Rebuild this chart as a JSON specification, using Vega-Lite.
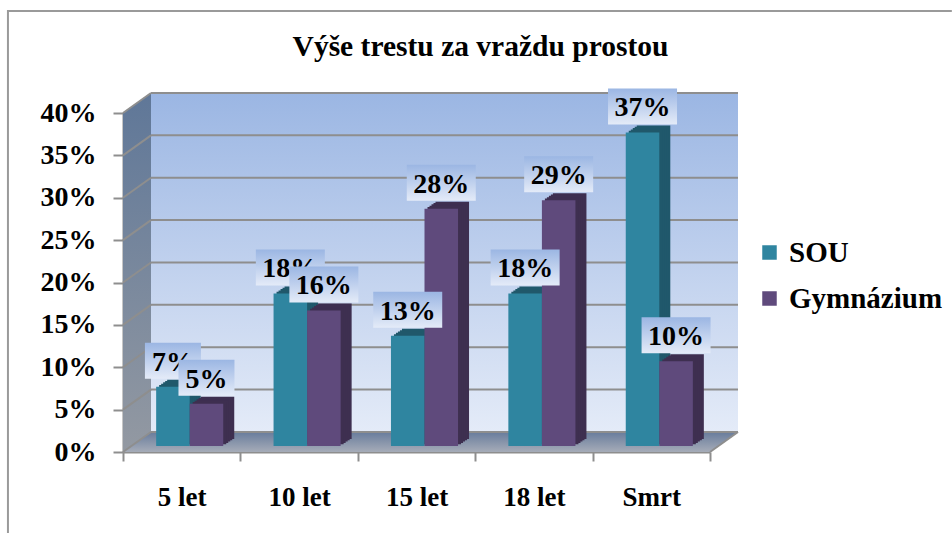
{
"$schema":"https://vega.github.io/schema/vega-lite/v6.json",
"width":587,"height":339,
"autosize":{"type":"none"},
"padding":{"left":123,"top":113,"right":242,"bottom":81},
"background":"white",
"title":{"text":"Výše trestu za vraždu prostou","font":"Liberation Serif","fontWeight":"bold","fontSize":29.5,"color":"#000","anchor":"middle","dx":64,"offset":-85,"baseline":"bottom"},
"datasets":{
"bars":[
{"doba":"5 let","skola":"SOU","podil":0.07},{"doba":"10 let","skola":"SOU","podil":0.18},{"doba":"15 let","skola":"SOU","podil":0.13},{"doba":"18 let","skola":"SOU","podil":0.18},{"doba":"Smrt","skola":"SOU","podil":0.37},
{"doba":"5 let","skola":"Gymnázium","podil":0.05},{"doba":"10 let","skola":"Gymnázium","podil":0.16},{"doba":"15 let","skola":"Gymnázium","podil":0.28},{"doba":"18 let","skola":"Gymnázium","podil":0.29},{"doba":"Smrt","skola":"Gymnázium","podil":0.10}
]
},
"layer":[
{
"layer":[
{"data":{"values":[{"a":-0.98,"v":-0.0956,"o":1},{"a":-0.98,"v":0.5204,"o":2},{"a":7.06,"v":0.5204,"o":3}]},
 "mark":{"type":"line","color":"#9a9a9a","strokeWidth":2,"clip":false},
 "encoding":{"x":{"field":"a","type":"quantitative","scale":{"domain":[0,5],"nice":false,"zero":false},"axis":null},"y":{"field":"v","type":"quantitative","scale":{"domain":[0,0.4],"nice":false},"axis":{"values":[0,0.05,0.1,0.15,0.2,0.25,0.3,0.35,0.4],"format":".0%","title":null,"grid":false,"domainColor":"#8e8e8e","domainWidth":2,"tickColor":"#8e8e8e","tickWidth":2,"tickSize":10,"labelPadding":17,"labelFont":"Liberation Serif","labelFontWeight":"bold","labelFontSize":28,"labelColor":"#000"}},"order":{"field":"o"}}},
{"data":{"values":[{"a":0.2385,"b":5.2385,"lo":0.0236,"hi":0.4236}]},
 "mark":{"type":"rect","clip":false,"fill":{"x1":0,"y1":0,"x2":0,"y2":1,"gradient":"linear","stops":[{"offset":0,"color":"#9bb6e3"},{"offset":1,"color":"#e4ebf8"}]}},
 "encoding":{"x":{"field":"a","type":"quantitative"},"x2":{"field":"b"},"y":{"field":"lo","type":"quantitative"},"y2":{"field":"hi"}}},
{"data":{"values":[{"a":0,"lo":0,"hi":0.4},{"a":0.2385,"lo":0.0236,"hi":0.4236}]},
 "mark":{"type":"area","clip":false,"fill":{"x1":0,"y1":0,"x2":0,"y2":1,"gradient":"linear","stops":[{"offset":0,"color":"#5f7798"},{"offset":1,"color":"#9399a2"}]}},
 "encoding":{"x":{"field":"a","type":"quantitative"},"y":{"field":"lo","type":"quantitative"},"y2":{"field":"hi"}}},
{"data":{"values":[{"v":0,"a":0,"b":5},{"v":0.0236,"a":0.2385,"b":5.2385}]},
 "mark":{"type":"area","orient":"horizontal","clip":false,"fill":{"x1":0,"y1":0,"x2":0,"y2":1,"gradient":"linear","stops":[{"offset":0,"color":"#687c9c"},{"offset":1,"color":"#a6acb8"}]}},
 "encoding":{"y":{"field":"v","type":"quantitative"},"x":{"field":"a","type":"quantitative"},"x2":{"field":"b"}}},
{"data":{"values":[{"v":0.0236,"a":0.2385,"b":5.2385},{"v":0.0736,"a":0.2385,"b":5.2385},{"v":0.1236,"a":0.2385,"b":5.2385},{"v":0.1736,"a":0.2385,"b":5.2385},{"v":0.2236,"a":0.2385,"b":5.2385},{"v":0.2736,"a":0.2385,"b":5.2385},{"v":0.3236,"a":0.2385,"b":5.2385},{"v":0.3736,"a":0.2385,"b":5.2385},{"v":0.4236,"a":0.2385,"b":5.2385}]},
 "mark":{"type":"rule","color":"#8e8e8e","strokeWidth":2,"clip":false},
 "encoding":{"y":{"field":"v","type":"quantitative"},"x":{"field":"a","type":"quantitative"},"x2":{"field":"b"}}},
{"data":{"values":[
{"k":0,"a":0,"v":0},{"k":0,"a":0.2385,"v":0.0236},{"k":5,"a":0,"v":0.05},{"k":5,"a":0.2385,"v":0.0736},{"k":10,"a":0,"v":0.1},{"k":10,"a":0.2385,"v":0.1236},{"k":15,"a":0,"v":0.15},{"k":15,"a":0.2385,"v":0.1736},{"k":20,"a":0,"v":0.2},{"k":20,"a":0.2385,"v":0.2236},{"k":25,"a":0,"v":0.25},{"k":25,"a":0.2385,"v":0.2736},{"k":30,"a":0,"v":0.3},{"k":30,"a":0.2385,"v":0.3236},{"k":35,"a":0,"v":0.35},{"k":35,"a":0.2385,"v":0.3736},{"k":40,"a":0,"v":0.4},{"k":40,"a":0.2385,"v":0.4236},{"k":99,"a":5,"v":0},{"k":99,"a":5.2385,"v":0.0236}]},
 "mark":{"type":"line","color":"#8e8e8e","strokeWidth":2,"clip":false},
 "encoding":{"x":{"field":"a","type":"quantitative"},"y":{"field":"v","type":"quantitative"},"detail":{"field":"k"}}}
]},
{"data":{"name":"bars"},"mark":{"type":"bar","opacity":0},
 "encoding":{"x":{"field":"doba","type":"nominal","sort":["5 let","10 let","15 let","18 let","Smrt"],"scale":{"paddingInner":0,"paddingOuter":0},
  "axis":{"title":null,"orient":"bottom","labelAngle":0,"tickBand":"extent","domainColor":"#8e8e8e","domainWidth":2,"tickColor":"#8e8e8e","tickWidth":2,"tickSize":9,"labelPadding":23,"labelFont":"Liberation Serif","labelFontWeight":"bold","labelFontSize":27,"labelColor":"#000","grid":false}},"y":{"field":"podil","type":"quantitative"}}},
{"data":{"name":"bars"},"mark":{"type":"bar","yOffset":-13},"encoding":{"x":{"field":"doba","type":"nominal","sort":["5 let","10 let","15 let","18 let","Smrt"],"axis":null,"scale":{"paddingInner":0,"paddingOuter":0,"range":[19,606]}},"xOffset":{"field":"skola","type":"nominal","sort":["SOU","Gymnázium"],"scale":{"paddingInner":0,"paddingOuter":0.75}},"y":{"field":"podil","type":"quantitative"},"color":{"condition":{"test":"datum.skola==='SOU'","value":"#20586b"},"value":"#3e2f50"}}},
{"data":{"name":"bars"},"mark":{"type":"bar","yOffset":-11.7},"encoding":{"x":{"field":"doba","type":"nominal","sort":["5 let","10 let","15 let","18 let","Smrt"],"axis":null,"scale":{"paddingInner":0,"paddingOuter":0,"range":[17,604]}},"xOffset":{"field":"skola","type":"nominal","sort":["SOU","Gymnázium"],"scale":{"paddingInner":0,"paddingOuter":0.75}},"y":{"field":"podil","type":"quantitative"},"color":{"condition":{"test":"datum.skola==='SOU'","value":"#20586b"},"value":"#3e2f50"}}},
{"data":{"name":"bars"},"mark":{"type":"bar","yOffset":-10.4},"encoding":{"x":{"field":"doba","type":"nominal","sort":["5 let","10 let","15 let","18 let","Smrt"],"axis":null,"scale":{"paddingInner":0,"paddingOuter":0,"range":[15,602]}},"xOffset":{"field":"skola","type":"nominal","sort":["SOU","Gymnázium"],"scale":{"paddingInner":0,"paddingOuter":0.75}},"y":{"field":"podil","type":"quantitative"},"color":{"condition":{"test":"datum.skola==='SOU'","value":"#20586b"},"value":"#3e2f50"}}},
{"data":{"name":"bars"},"mark":{"type":"bar","yOffset":-9},"encoding":{"x":{"field":"doba","type":"nominal","sort":["5 let","10 let","15 let","18 let","Smrt"],"axis":null,"scale":{"paddingInner":0,"paddingOuter":0,"range":[13,600]}},"xOffset":{"field":"skola","type":"nominal","sort":["SOU","Gymnázium"],"scale":{"paddingInner":0,"paddingOuter":0.75}},"y":{"field":"podil","type":"quantitative"},"color":{"condition":{"test":"datum.skola==='SOU'","value":"#20586b"},"value":"#3e2f50"}}},
{"data":{"name":"bars"},"mark":{"type":"bar","yOffset":-7.7},"encoding":{"x":{"field":"doba","type":"nominal","sort":["5 let","10 let","15 let","18 let","Smrt"],"axis":null,"scale":{"paddingInner":0,"paddingOuter":0,"range":[11,598]}},"xOffset":{"field":"skola","type":"nominal","sort":["SOU","Gymnázium"],"scale":{"paddingInner":0,"paddingOuter":0.75}},"y":{"field":"podil","type":"quantitative"},"color":{"condition":{"test":"datum.skola==='SOU'","value":"#20586b"},"value":"#3e2f50"}}},
{
"data":{"name":"bars"},
"encoding":{
 "x":{"field":"doba","type":"nominal","sort":["5 let","10 let","15 let","18 let","Smrt"],"axis":null,"scale":{"paddingInner":0,"paddingOuter":0,"range":[8,595]}},
 "xOffset":{"field":"skola","type":"nominal","sort":["SOU","Gymnázium"],"scale":{"paddingInner":0,"paddingOuter":0.75}},
 "y":{"field":"podil","type":"quantitative"}
},
"layer":[
{"mark":{"type":"bar","yOffset":-6},
 "encoding":{"color":{"field":"skola","type":"nominal","sort":["SOU","Gymnázium"],"scale":{"domain":["SOU","Gymnázium"],"range":["#2f85a0","#5f4a7c"]},
  "legend":{"title":null,"orient":"none","legendX":632,"legendY":125,"symbolType":"square","symbolSize":210,"symbolStrokeWidth":0,"symbolOpacity":1,"labelFont":"Liberation Serif","labelFontWeight":"bold","labelFontSize":29,"labelColor":"#000","rowPadding":16,"labelOffset":5,"labelLimit":300}}}},
{"transform":[{"filter":"datum.skola==='SOU' && datum.podil<0.1"}],"mark":{"type":"rect","width":56,"height":36,"yOffset":-32,"clip":false,"fill":{"x1":0,"y1":0,"x2":0,"y2":1,"gradient":"linear","stops":[{"offset":0,"color":"#9bb6e3"},{"offset":1,"color":"#e4ebf8"}]}}},
{"transform":[{"filter":"datum.skola==='SOU' && datum.podil>=0.1"}],"mark":{"type":"rect","width":69,"height":36,"yOffset":-32,"clip":false,"fill":{"x1":0,"y1":0,"x2":0,"y2":1,"gradient":"linear","stops":[{"offset":0,"color":"#9bb6e3"},{"offset":1,"color":"#e4ebf8"}]}}},
{"transform":[{"filter":"datum.skola==='SOU'"}],"mark":{"type":"text","dy":-30,"baseline":"middle","align":"center","font":"Liberation Serif","fontWeight":"bold","fontSize":28,"color":"#000"},"encoding":{"text":{"field":"podil","type":"quantitative","format":".0%"}}},
{"transform":[{"filter":"datum.skola!=='SOU' && datum.podil<0.1"}],"mark":{"type":"rect","width":56,"height":36,"yOffset":-32,"clip":false,"fill":{"x1":0,"y1":0,"x2":0,"y2":1,"gradient":"linear","stops":[{"offset":0,"color":"#9bb6e3"},{"offset":1,"color":"#e4ebf8"}]}}},
{"transform":[{"filter":"datum.skola!=='SOU' && datum.podil>=0.1"}],"mark":{"type":"rect","width":69,"height":36,"yOffset":-32,"clip":false,"fill":{"x1":0,"y1":0,"x2":0,"y2":1,"gradient":"linear","stops":[{"offset":0,"color":"#9bb6e3"},{"offset":1,"color":"#e4ebf8"}]}}},
{"transform":[{"filter":"datum.skola!=='SOU'"}],"mark":{"type":"text","dy":-30,"baseline":"middle","align":"center","font":"Liberation Serif","fontWeight":"bold","fontSize":28,"color":"#000"},"encoding":{"text":{"field":"podil","type":"quantitative","format":".0%"}}}
]
}
],
"resolve":{"scale":{"x":"independent"}},
"config":{"view":{"stroke":null}}
}
